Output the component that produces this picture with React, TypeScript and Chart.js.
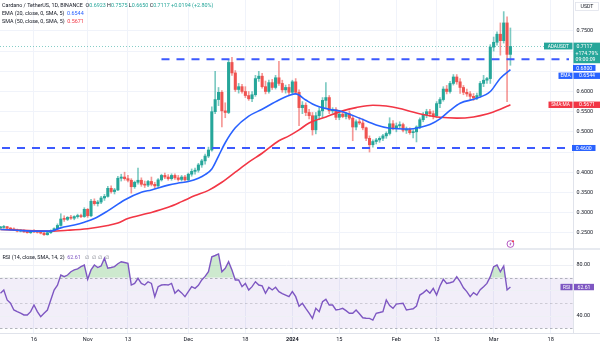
import React, { useEffect, useRef } from 'react';
import { Chart, registerables } from 'chart.js';

Chart.register(...registerables);

// Day index 0 = 16 Oct 2023; candles start 6 Oct 2023 (day -10) and end 6 Mar 2024 (day 142)
const FIRST_DAY = -10;

// [open, high, low, close]
const candles: number[][] = [
  [0.262, 0.266, 0.258, 0.263], [0.263, 0.268, 0.261, 0.265], [0.265, 0.266, 0.259, 0.261], [0.261, 0.263, 0.257, 0.259],
  [0.259, 0.262, 0.255, 0.257], [0.257, 0.259, 0.252, 0.254], [0.254, 0.258, 0.252, 0.256], [0.256, 0.257, 0.251, 0.252],
  [0.252, 0.255, 0.249, 0.25], [0.25, 0.254, 0.248, 0.253], [0.253, 0.258, 0.25, 0.252], [0.252, 0.255, 0.249, 0.251],
  [0.251, 0.253, 0.247, 0.249], [0.249, 0.251, 0.243, 0.245], [0.245, 0.252, 0.244, 0.25], [0.25, 0.257, 0.248, 0.255],
  [0.255, 0.262, 0.253, 0.26], [0.26, 0.272, 0.258, 0.268], [0.268, 0.297, 0.266, 0.284], [0.284, 0.292, 0.278, 0.283],
  [0.283, 0.29, 0.28, 0.288], [0.288, 0.293, 0.283, 0.286], [0.286, 0.292, 0.282, 0.29], [0.29, 0.296, 0.286, 0.292],
  [0.292, 0.296, 0.287, 0.29], [0.29, 0.312, 0.288, 0.308], [0.308, 0.31, 0.288, 0.292], [0.292, 0.333, 0.29, 0.328],
  [0.328, 0.334, 0.318, 0.322], [0.322, 0.33, 0.316, 0.326], [0.326, 0.34, 0.322, 0.336], [0.336, 0.345, 0.33, 0.34],
  [0.34, 0.365, 0.338, 0.36], [0.36, 0.366, 0.348, 0.352], [0.352, 0.36, 0.346, 0.356], [0.356, 0.39, 0.354, 0.385],
  [0.385, 0.395, 0.378, 0.388], [0.388, 0.4, 0.38, 0.384], [0.384, 0.392, 0.376, 0.38], [0.38, 0.384, 0.348, 0.364],
  [0.364, 0.378, 0.36, 0.375], [0.375, 0.41, 0.37, 0.38], [0.38, 0.386, 0.365, 0.37], [0.37, 0.378, 0.362, 0.368],
  [0.368, 0.38, 0.364, 0.377], [0.377, 0.388, 0.366, 0.37], [0.37, 0.375, 0.36, 0.366], [0.366, 0.384, 0.362, 0.381],
  [0.381, 0.395, 0.378, 0.392], [0.392, 0.398, 0.384, 0.388], [0.388, 0.394, 0.38, 0.384], [0.384, 0.396, 0.38, 0.392],
  [0.392, 0.396, 0.382, 0.386], [0.386, 0.392, 0.378, 0.382], [0.382, 0.392, 0.378, 0.388], [0.388, 0.392, 0.378, 0.381],
  [0.381, 0.398, 0.378, 0.395], [0.395, 0.408, 0.39, 0.402], [0.402, 0.41, 0.395, 0.405], [0.405, 0.422, 0.4, 0.418],
  [0.418, 0.432, 0.412, 0.428], [0.428, 0.445, 0.42, 0.44], [0.44, 0.462, 0.436, 0.455], [0.455, 0.562, 0.452, 0.55],
  [0.55, 0.65, 0.545, 0.58], [0.58, 0.61, 0.565, 0.598], [0.598, 0.602, 0.512, 0.552], [0.552, 0.572, 0.535, 0.548],
  [0.548, 0.678, 0.545, 0.672], [0.672, 0.685, 0.64, 0.646], [0.646, 0.652, 0.6, 0.605], [0.605, 0.62, 0.596, 0.612],
  [0.612, 0.618, 0.596, 0.6], [0.6, 0.612, 0.585, 0.59], [0.59, 0.6, 0.578, 0.582], [0.582, 0.6, 0.575, 0.592],
  [0.592, 0.64, 0.588, 0.632], [0.632, 0.65, 0.625, 0.638], [0.638, 0.645, 0.608, 0.612], [0.612, 0.626, 0.594, 0.6],
  [0.6, 0.628, 0.596, 0.622], [0.622, 0.63, 0.605, 0.61], [0.61, 0.64, 0.606, 0.634], [0.634, 0.675, 0.615, 0.62],
  [0.62, 0.628, 0.598, 0.604], [0.604, 0.616, 0.596, 0.61], [0.61, 0.618, 0.592, 0.598], [0.598, 0.628, 0.592, 0.624],
  [0.624, 0.632, 0.594, 0.598], [0.598, 0.604, 0.515, 0.56], [0.56, 0.575, 0.545, 0.566], [0.566, 0.572, 0.54, 0.548],
  [0.548, 0.556, 0.532, 0.54], [0.54, 0.548, 0.492, 0.505], [0.505, 0.548, 0.495, 0.54], [0.54, 0.56, 0.53, 0.552],
  [0.552, 0.585, 0.535, 0.578], [0.578, 0.622, 0.56, 0.585], [0.585, 0.59, 0.545, 0.552], [0.552, 0.56, 0.546, 0.555],
  [0.555, 0.56, 0.53, 0.536], [0.536, 0.548, 0.53, 0.544], [0.544, 0.55, 0.535, 0.538], [0.538, 0.548, 0.532, 0.545],
  [0.545, 0.552, 0.53, 0.534], [0.534, 0.54, 0.478, 0.512], [0.512, 0.53, 0.505, 0.525], [0.525, 0.535, 0.518, 0.522],
  [0.522, 0.532, 0.505, 0.51], [0.51, 0.512, 0.478, 0.484], [0.484, 0.49, 0.45, 0.468], [0.468, 0.48, 0.462, 0.476],
  [0.476, 0.484, 0.47, 0.48], [0.48, 0.488, 0.474, 0.484], [0.484, 0.494, 0.478, 0.49], [0.49, 0.5, 0.484, 0.496],
  [0.496, 0.535, 0.492, 0.52], [0.52, 0.528, 0.505, 0.51], [0.51, 0.522, 0.5, 0.515], [0.515, 0.525, 0.508, 0.518],
  [0.518, 0.522, 0.5, 0.504], [0.504, 0.512, 0.496, 0.506], [0.506, 0.51, 0.494, 0.498], [0.498, 0.505, 0.485, 0.5],
  [0.5, 0.515, 0.475, 0.512], [0.512, 0.535, 0.508, 0.53], [0.53, 0.548, 0.525, 0.542], [0.542, 0.556, 0.535, 0.55],
  [0.55, 0.556, 0.538, 0.545], [0.545, 0.552, 0.532, 0.54], [0.54, 0.575, 0.536, 0.57], [0.57, 0.585, 0.56, 0.58],
  [0.58, 0.612, 0.576, 0.606], [0.606, 0.615, 0.594, 0.6], [0.6, 0.625, 0.596, 0.62], [0.62, 0.642, 0.616, 0.636],
  [0.636, 0.642, 0.618, 0.624], [0.624, 0.632, 0.595, 0.61], [0.61, 0.615, 0.592, 0.598], [0.598, 0.606, 0.588, 0.594],
  [0.594, 0.6, 0.58, 0.588], [0.588, 0.595, 0.578, 0.584], [0.584, 0.596, 0.58, 0.59], [0.59, 0.625, 0.586, 0.62],
  [0.62, 0.64, 0.612, 0.628], [0.628, 0.635, 0.62, 0.632], [0.632, 0.716, 0.62, 0.71], [0.71, 0.735, 0.7, 0.722],
  [0.722, 0.748, 0.715, 0.742], [0.742, 0.77, 0.69, 0.726], [0.726, 0.798, 0.72, 0.77], [0.77, 0.785, 0.575, 0.692],
  [0.692, 0.7575, 0.665, 0.7117],
];

// RSI(14), one value per candle
const rsiValues: number[] = [
  57.7, 60.3, 52.4, 49.8, 44.5, 43.2, 42, 40.6, 40.6, 43.2,
  48.4, 43.2, 39.2, 42, 44.5, 52.4, 60.3, 64, 72.1, 70.8,
  72.1, 74.7, 76.1, 77, 78.7, 80, 68.7, 76.1, 80, 78,
  79.2, 85.3, 77.4, 78, 78.7, 81, 82.6, 82, 81.3, 64.2,
  65.5, 69.5, 65.5, 64.2, 66.8, 65.5, 55, 62.9, 64.2, 64.5,
  64.2, 65.5, 57.7, 60.3, 58, 55, 59, 62.9, 61.6, 64,
  68.2, 71, 74.7, 86.5, 87.5, 88.7, 74.7, 77.4, 82.6, 76.1,
  68.2, 68.2, 62.9, 65.5, 60.3, 62.9, 66.8, 64.2, 63.5, 57.7,
  62.4, 60.3, 62.4, 59, 57.5, 56.3, 55, 59, 55, 47.5,
  49.8, 45.8, 42, 37.9, 45.8, 43.2, 51, 52.9, 48.4, 48.4,
  44.5, 45, 45.8, 44, 41.9, 41.9, 44.5, 41.5, 38.4, 38,
  37.9, 36.6, 41.9, 42.5, 43.2, 52.4, 48, 45.8, 49.2, 49.5,
  49.8, 44.5, 45, 45.5, 47.6, 56.3, 58, 60.3, 57.7, 61.6,
  56.3, 63.4, 68.7, 65.5, 66, 66.8, 70.8, 66.8, 62, 59,
  55, 58.2, 56.3, 60.5, 62.9, 65.5, 70.8, 78.7, 80, 74.7,
  79.2, 60.3, 62.61,
];

// EMA(20) read at selected days
const emaDays = [-10, -5, 0, 5, 8, 12, 15, 18, 22, 27, 32, 35, 40, 43, 46, 49, 51, 53, 55, 57, 60, 64, 68, 73, 76, 78, 81, 83, 85, 88, 92, 97, 102, 106, 112, 115, 118, 121, 124, 127, 132, 136, 139, 142];
const emaValues = [0.258, 0.256, 0.254, 0.254, 0.262, 0.269, 0.276, 0.285, 0.304, 0.331, 0.35, 0.356, 0.368, 0.373, 0.377, 0.385, 0.394, 0.408, 0.44, 0.473, 0.51, 0.539, 0.556, 0.579, 0.59, 0.594, 0.579, 0.569, 0.562, 0.556, 0.55, 0.534, 0.517, 0.509, 0.507, 0.511, 0.518, 0.532, 0.553, 0.571, 0.583, 0.6, 0.633, 0.6544];

// SMA(50) read at selected days
const smaDays = [-10, 0, 5, 10, 16, 22, 25, 28, 34, 40, 44, 48, 52, 56, 60, 64, 68, 73, 76, 79, 82, 87, 92, 96, 101, 105, 109, 112, 116, 121, 126, 131, 135, 139, 142];
const smaValues = [0.258, 0.255, 0.254, 0.256, 0.26, 0.268, 0.274, 0.285, 0.298, 0.313, 0.327, 0.342, 0.355, 0.375, 0.4, 0.425, 0.447, 0.478, 0.49, 0.505, 0.522, 0.537, 0.552, 0.56, 0.566, 0.564, 0.558, 0.551, 0.543, 0.536, 0.534, 0.537, 0.544, 0.556, 0.5671];

const timeTickDays = [0, 16, 28, 46, 63, 77, 91, 108, 120, 137, 154];
const timeTickLabels = ['16', 'Nov', '13', 'Dec', '18', '2024', '15', 'Feb', '13', 'Mar', '18'];
const priceTicks = [0.25, 0.3, 0.35, 0.4, 0.45, 0.5, 0.55, 0.6, 0.65, 0.7, 0.75];
const hiddenPriceLabels = [0.45, 0.65, 0.7];
const rsiGrid = [40, 60, 80];
const rsiLabels = [40, 80];

const resistance = 0.68;
const resistanceFromDay = 38;
const support = 0.46;
const lastClose = 0.7117;
const lastEma = 0.6544;
const lastSma = 0.5671;
const lastRsi = 62.61;
const eventDay = 142;

const title = 'Cardano / TetherUS, 1D, BINANCE';
const ohlcLetters = ['O', 'H', 'L', 'C'];
const ohlcValues = ['0.6923', '0.7575', '0.6650', '0.7117'];
const changeText = '+0.0194 (+2.80%)';

const UP = '#26a69a';
const DOWN = '#ef5350';
const UP_WICK = 'rgba(38,166,154,0.6)';
const DOWN_WICK = 'rgba(239,83,80,0.6)';
const EMA_C = '#2962ff';
const SMA_C = '#f23645';
const RSI_C = '#7e57c2';
const LINE_C = '#3d5afe';
const TXT = '#131722';
const FAM = 'Roboto, "Open Sans", sans-serif';
const SEP_Y = 249;

function tag(ctx: CanvasRenderingContext2D, x: number, y: number, w: number, h: number, bg: string, txt: string, fg: string, size = 5.2) {
  ctx.fillStyle = bg;
  ctx.fillRect(x, y, w, h);
  ctx.fillStyle = fg;
  ctx.font = `${size}px ${FAM}`;
  ctx.textAlign = 'center';
  ctx.textBaseline = 'middle';
  ctx.fillText(txt, x + w / 2, y + h / 2 + 0.3);
}

function seq(ctx: CanvasRenderingContext2D, x: number, y: number, parts: [string, string][], size = 5.4) {
  ctx.font = `${size}px ${FAM}`;
  ctx.textAlign = 'left';
  ctx.textBaseline = 'middle';
  let cx = x;
  for (const [t, c] of parts) {
    ctx.fillStyle = c;
    ctx.fillText(t, cx, y);
    cx += ctx.measureText(t).width;
  }
}

const overlay = {
  id: 'overlay',
  beforeDatasetsDraw(chart: any) {
    const { ctx, chartArea: a } = chart;
    const yr = chart.scales.yr;
    ctx.save();
    const y70 = yr.getPixelForValue(70);
    const y30 = yr.getPixelForValue(30);
    ctx.fillStyle = 'rgba(126,87,194,0.1)';
    ctx.fillRect(a.left, y70, a.right - a.left, y30 - y70);
    ctx.strokeStyle = '#eef0f5';
    ctx.lineWidth = 1;
    for (const v of rsiGrid) {
      const p = Math.round(yr.getPixelForValue(v)) + 0.5;
      ctx.beginPath(); ctx.moveTo(a.left, p); ctx.lineTo(a.right, p); ctx.stroke();
    }
    ctx.setLineDash([2.5, 2.5]);
    ctx.strokeStyle = 'rgba(120,123,134,0.55)';
    for (const v of [70, 30]) {
      const p = Math.round(yr.getPixelForValue(v)) + 0.5;
      ctx.beginPath(); ctx.moveTo(a.left, p); ctx.lineTo(a.right, p); ctx.stroke();
    }
    ctx.strokeStyle = 'rgba(120,123,134,0.3)';
    const p50 = Math.round(yr.getPixelForValue(50)) + 0.5;
    ctx.beginPath(); ctx.moveTo(a.left, p50); ctx.lineTo(a.right, p50); ctx.stroke();
    ctx.restore();
  },
  afterDatasetsDraw(chart: any) {
    const { ctx, chartArea: a } = chart;
    const y = chart.scales.y;
    const x = chart.scales.x;
    ctx.save();
    // current price dotted line
    ctx.strokeStyle = 'rgba(38,166,154,0.7)';
    ctx.lineWidth = 0.8;
    ctx.setLineDash([1, 2]);
    const pl = Math.round(y.getPixelForValue(lastClose)) + 0.5;
    ctx.beginPath(); ctx.moveTo(a.left, pl); ctx.lineTo(a.right, pl); ctx.stroke();
    // horizontal dashed levels
    ctx.strokeStyle = LINE_C;
    ctx.lineWidth = 2;
    ctx.setLineDash([8, 7]);
    const yr1 = y.getPixelForValue(resistance);
    ctx.beginPath(); ctx.moveTo(x.getPixelForValue(resistanceFromDay), yr1); ctx.lineTo(a.right - 4, yr1); ctx.stroke();
    const ys = y.getPixelForValue(support);
    ctx.beginPath(); ctx.moveTo(a.left + 2, ys); ctx.lineTo(a.right - 4, ys); ctx.stroke();
    ctx.restore();
  },
  afterDraw(chart: any) {
    const { ctx, chartArea: a, width } = chart;
    const y = chart.scales.y;
    const yr = chart.scales.yr;
    const x = chart.scales.x;
    ctx.save();
    // pane separator, axis borders
    ctx.fillStyle = '#e0e3eb';
    ctx.fillRect(0, SEP_Y - 0.75, width, 1.5);
    ctx.fillRect(a.right, 0, 1, a.bottom);
    ctx.fillRect(0, a.bottom, width, 1);

    // RSI axis labels
    ctx.font = `5.4px ${FAM}`;
    ctx.fillStyle = TXT;
    ctx.textAlign = 'left';
    ctx.textBaseline = 'middle';
    for (const v of rsiLabels) ctx.fillText(v.toFixed(2), a.right + 3.5, yr.getPixelForValue(v));

    // USDT
    ctx.strokeStyle = '#e0e3eb';
    ctx.lineWidth = 0.8;
    ctx.strokeRect(a.right + 2.5, 2.5, 23, 8);
    ctx.fillStyle = TXT;
    ctx.font = `5.2px ${FAM}`;
    ctx.textAlign = 'center';
    ctx.fillText('USDT', a.right + 14, 6.8);

    // last price labels
    const yp = y.getPixelForValue(lastClose);
    tag(ctx, a.right - 29, yp - 3.8, 28.5, 6.8, UP, 'ADAUSDT', '#fff', 4.8);
    ctx.fillStyle = UP;
    ctx.fillRect(a.right + 0.5, yp - 3.8, width - a.right, 20.6);
    ctx.fillStyle = '#fff';
    ctx.font = `5.2px ${FAM}`;
    ctx.textAlign = 'left';
    ctx.fillText(lastClose.toFixed(4), a.right + 3.5, yp);
    ctx.fillText('+174.79%', a.right + 2.5, yp + 6.8);
    ctx.fillText('09:00:09', a.right + 2.5, yp + 13.6);

    // level label 0.6800 (shifted below the price label)
    tag(ctx, a.right, yp + 18.5, 22.5, 6, EMA_C, resistance.toFixed(4), '#fff');
    // EMA label
    const ye = yp + 26.2;
    tag(ctx, a.right - 14.5, ye, 14, 6.3, EMA_C, 'EMA', '#fff', 4.8);
    tag(ctx, a.right + 0.5, ye, width - a.right, 6.3, EMA_C, lastEma.toFixed(4), '#fff');
    // SMA label
    const ysm = y.getPixelForValue(lastSma);
    tag(ctx, a.right - 24.5, ysm - 3.2, 24, 6.4, SMA_C, 'SMA:MA', '#fff', 4.8);
    tag(ctx, a.right + 0.5, ysm - 3.2, width - a.right, 6.4, SMA_C, lastSma.toFixed(4), '#fff');
    // support label
    const ysu = y.getPixelForValue(support);
    tag(ctx, a.right - 1, ysu - 3, 23.5, 6, EMA_C, support.toFixed(4), '#fff');
    // RSI label
    const yri = yr.getPixelForValue(lastRsi);
    tag(ctx, a.right - 12.5, yri - 3.2, 12, 6.4, RSI_C, 'RSI', '#fff', 4.8);
    tag(ctx, a.right + 1, yri - 3.2, 20, 6.4, RSI_C, lastRsi.toFixed(2), '#fff');

    // header
    const parts: [string, string][] = [[title + '  ', TXT]];
    ohlcLetters.forEach((l, i) => { parts.push([l, TXT]); parts.push([ohlcValues[i] + ' ', UP]); });
    parts.push([changeText, UP]);
    seq(ctx, 2, 6, parts);
    seq(ctx, 2, 14, [['EMA (20, close, 0, SMA, 5)  ', TXT], [lastEma.toFixed(4), EMA_C]]);
    seq(ctx, 2, 21.5, [['SMA (50, close, 0, SMA, 5)  ', TXT], [lastSma.toFixed(4), SMA_C]]);
    seq(ctx, 2.5, 257.5, [['RSI (14, close, SMA, 14, 2)  ', TXT], [lastRsi.toFixed(2), RSI_C], ['   \u2205  \u2205  \u2205  \u2205', '#787b86']]);

    // event icon
    const ex = x.getPixelForValue(eventDay);
    ctx.strokeStyle = '#ab47bc';
    ctx.lineWidth = 0.9;
    ctx.beginPath(); ctx.arc(ex, 244, 3.4, 0, Math.PI * 2); ctx.stroke();
    ctx.fillStyle = '#ab47bc';
    ctx.beginPath();
    ctx.moveTo(ex + 0.6, 241.8); ctx.lineTo(ex - 1.2, 244.4); ctx.lineTo(ex, 244.4);
    ctx.lineTo(ex - 0.6, 246.3); ctx.lineTo(ex + 1.2, 243.6); ctx.lineTo(ex, 243.6); ctx.closePath(); ctx.fill();
    ctx.fillStyle = '#f23645';
    ctx.beginPath(); ctx.arc(ex + 2.6, 241.2, 1, 0, Math.PI * 2); ctx.fill();
    ctx.restore();
  },
};

export default function App() {
  const ref = useRef<HTMLCanvasElement>(null);
  useEffect(() => {
    document.body.style.margin = '0';
    const canvas = ref.current!;
    const days = candles.map((_, i) => FIRST_DAY + i);
    const isUp = candles.map((c) => c[3] >= c[0]);
    const chart = new Chart(canvas, {
      type: 'bar',
      data: {
        datasets: [
          {
            type: 'bar',
            data: candles.map((c, i) => ({ x: days[i], y: [c[2], c[1]] })) as any,
            backgroundColor: isUp.map((u) => (u ? UP_WICK : DOWN_WICK)),
            barThickness: 1,
            grouped: false,
            yAxisID: 'y',
            order: 6,
          } as any,
          {
            type: 'bar',
            data: candles.map((c, i) => ({ x: days[i], y: [c[0], c[3]] })) as any,
            backgroundColor: isUp.map((u) => (u ? UP : DOWN)),
            barThickness: 2.4,
            minBarLength: 1,
            grouped: false,
            yAxisID: 'y',
            order: 5,
          } as any,
          {
            type: 'line',
            data: smaDays.map((d, i) => ({ x: d, y: smaValues[i] })),
            borderColor: SMA_C,
            borderWidth: 1.6,
            pointRadius: 0,
            cubicInterpolationMode: 'monotone',
            yAxisID: 'y',
            order: 2,
          } as any,
          {
            type: 'line',
            data: emaDays.map((d, i) => ({ x: d, y: emaValues[i] })),
            borderColor: EMA_C,
            borderWidth: 1.6,
            pointRadius: 0,
            cubicInterpolationMode: 'monotone',
            yAxisID: 'y',
            order: 1,
          } as any,
          {
            type: 'line',
            data: rsiValues.map((v, i) => ({ x: days[i], y: v })),
            borderColor: RSI_C,
            borderWidth: 1.4,
            pointRadius: 0,
            yAxisID: 'yr',
            fill: { value: 70, above: 'rgba(76,175,80,0.28)', below: 'rgba(0,0,0,0)' },
            order: 3,
          } as any,
        ],
      },
      options: {
        responsive: false,
        animation: false,
        devicePixelRatio: 1,
        layout: { padding: 0 },
        plugins: { legend: { display: false }, tooltip: { enabled: false } },
        scales: {
          x: {
            type: 'linear',
            min: -10.13,
            max: 160.65,
            offset: false,
            afterBuildTicks: (s: any) => { s.ticks = timeTickDays.map((v) => ({ value: v })); },
            afterFit: (s: any) => { s.height = 13; s.paddingLeft = 0; s.paddingRight = 0; },
            ticks: {
              autoSkip: false,
              maxRotation: 0,
              padding: 3,
              color: TXT,
              font: (c: any) => ({ size: 5.6, family: FAM, weight: c.tick && c.tick.label === '2024' ? 'bold' : 'normal' }),
              callback: (_v: any, i: number) => timeTickLabels[i],
            },
            grid: { color: '#f0f3fa', drawTicks: false, offset: false },
            border: { display: false },
          },
          y: {
            type: 'linear',
            position: 'right',
            min: 0.0014,
            max: 0.8268,
            beginAtZero: false,
            afterBuildTicks: (s: any) => { s.ticks = priceTicks.map((v) => ({ value: v })); },
            afterFit: (s: any) => { s.width = 27; s.paddingTop = 0; s.paddingBottom = 0; },
            ticks: {
              padding: 3.5,
              color: TXT,
              font: { size: 5.4, family: FAM },
              callback: (v: any) => (hiddenPriceLabels.some((h) => Math.abs(h - v) < 1e-6) ? '' : Number(v).toFixed(4)),
            },
            grid: { color: '#f0f3fa', drawTicks: false },
            border: { display: false },
          },
          yr: {
            type: 'linear',
            position: 'right',
            display: false,
            min: 26.35,
            max: 289.07,
          },
        },
      } as any,
      plugins: [overlay],
    });
    return () => chart.destroy();
  }, []);
  return (
    <div style={{ width: 600, height: 346, background: '#fff' }}>
      <canvas ref={ref} width={600} height={346} style={{ display: 'block' }} />
    </div>
  );
}
